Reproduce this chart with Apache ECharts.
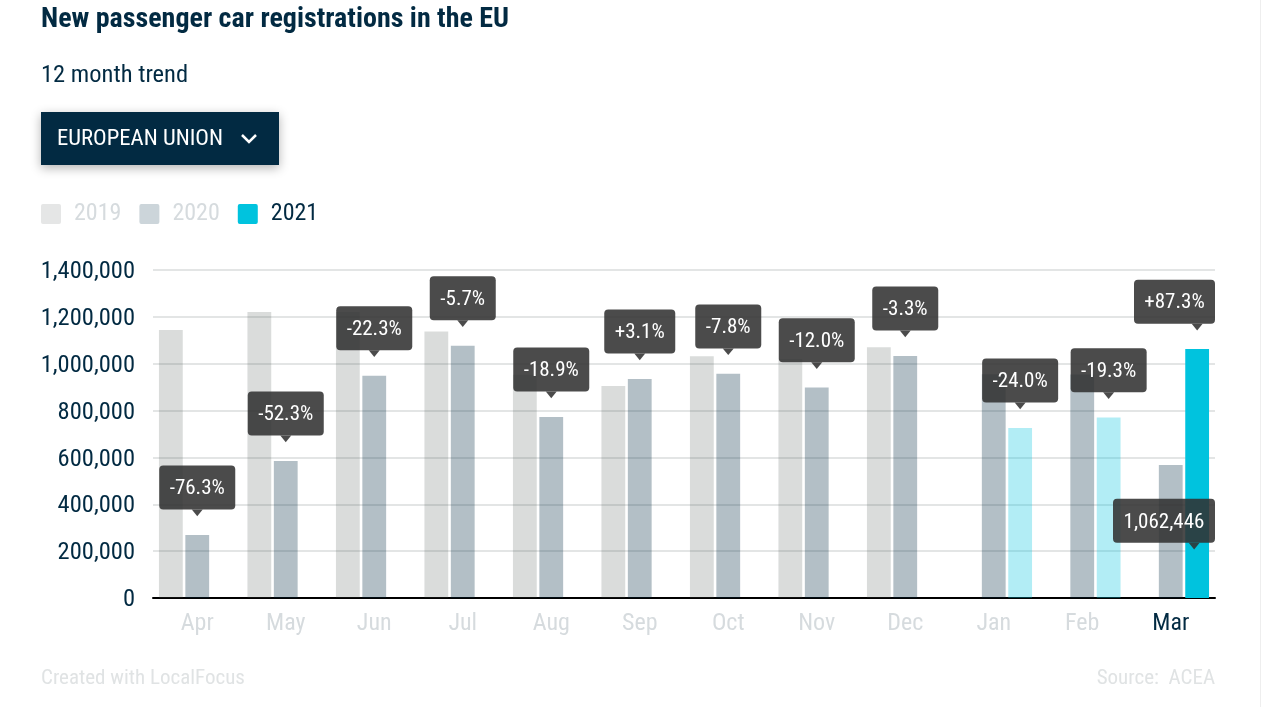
<!DOCTYPE html>
<html>
<head>
<meta charset="utf-8">
<title>New passenger car registrations in the EU</title>
<style>
html,body{margin:0;padding:0;background:#fff}
#chart{width:1263px;height:707px}
</style>
<script src="https://cdn.jsdelivr.net/npm/echarts@6/dist/echarts.min.js"></script>
</head>
<body>
<div id="chart"></div>
<script>
var months = ['Apr','May','Jun','Jul','Aug','Sep','Oct','Nov','Dec','Jan','Feb','Mar'];
var y2019 = [1144000,1221000,1221000,1137000,953000,905000,1032000,1020000,1070000,null,null,null];
var y2020 = [269000,585000,949000,1077000,773000,935000,957000,898000,1033000,955000,954000,568000];
var y2021 = [null,null,null,null,null,null,null,null,null,726000,770000,1062446];
var changes = ['-76.3%','-52.3%','-22.3%','-5.7%','-18.9%','+3.1%','-7.8%','-12.0%','-3.3%','-24.0%','-19.3%','+87.3%'];
var hoverLabel = '1,062,446';
var hoverAnchor = 207000;

var FONT = '"Roboto Condensed", Roboto, sans-serif';
var NAVY = '#022a42';
var FADED = '#d6dbde';
var BAR_W = 23.8, BAR_GAP = 2.6;

var myChart = echarts.init(document.getElementById('chart'));

var callouts = [];
for (var i = 0; i < months.length; i++) {
  var has2021 = y2021[i] != null;
  callouts.push({ idx: i, value: has2021 ? y2021[i] : y2020[i], text: changes[i], dx: has2021 ? BAR_W + BAR_GAP : 0 });
}
callouts.push({ idx: 11, value: hoverAnchor, text: hoverLabel, dx: BAR_W + BAR_GAP - 3 });

var measure = document.createElement('canvas').getContext('2d');
measure.font = '21px ' + FONT;

function renderCallout(params, api) {
  var c = callouts[params.dataIndex];
  var pt = api.coord([c.idx, c.value]);
  var cx = pt[0] + c.dx;
  var tip = c.value === hoverAnchor ? pt[1] : pt[1] - 18.7;
  var w = Math.round(measure.measureText(c.text).width) + 21;
  var h = 44;
  var right = params.coordSys.x + params.coordSys.width;
  var left = Math.min(cx - w / 2, right - w);
  var fill = 'rgba(48,48,48,0.87)';
  return {
    type: 'group',
    children: [
      { type: 'polygon', shape: { points: [[cx - 5.5, tip - 6.7], [cx + 5.5, tip - 6.7], [cx, tip]] }, style: { fill: fill } },
      { type: 'rect', shape: { x: left, y: tip - 6.7 - h, width: w, height: h, r: 4 }, style: { fill: fill } },
      { type: 'text', x: left + w / 2, y: tip - 6.7 - h / 2 + 1.5,
        style: { text: c.text, fill: '#fff', font: '21px ' + FONT, align: 'center', verticalAlign: 'middle' } }
    ]
  };
}

var option = {
  animation: false,
  backgroundColor: '#fff',
  textStyle: { fontFamily: FONT },
  title: [
    { text: 'New passenger car registrations in the EU', left: 41, top: 6, padding: 0,
      textStyle: { color: NAVY, fontSize: 28, fontWeight: 'bold', fontFamily: FONT } },
    { text: '12 month trend', left: 41, top: 63, padding: 0,
      textStyle: { color: NAVY, fontSize: 24.5, fontWeight: 'normal', fontFamily: FONT } }
  ],
  legend: {
    left: 41, top: 202, padding: 0, itemWidth: 20, itemHeight: 20, itemGap: 18,
    icon: 'path://M2 0H18Q20 0 20 2V18Q20 20 18 20H2Q0 20 0 18V2Q0 0 2 0Z',
    selectedMode: false,
    textStyle: { fontSize: 24, fontFamily: FONT, padding: [0, 0, 0, 8] },
    data: [
      { name: '2019', itemStyle: { color: '#e5e6e6', opacity: 1 }, textStyle: { color: FADED } },
      { name: '2020', itemStyle: { color: '#ccd5da', opacity: 1 }, textStyle: { color: FADED } },
      { name: '2021', itemStyle: { color: '#00c3de', opacity: 1 }, textStyle: { color: NAVY } }
    ]
  },
  grid: { left: 153, right: 48, top: 270, bottom: 109 },
  xAxis: {
    type: 'category',
    data: months,
    axisLine: { lineStyle: { color: '#000', width: 2 } },
    axisTick: { show: false },
    axisLabel: {
      margin: 14, fontSize: 24, fontFamily: FONT,
      color: function (v) { return v === 'Mar' ? NAVY : FADED; }
    }
  },
  yAxis: {
    type: 'value', min: 0, max: 1400000, interval: 200000,
    axisLine: { show: false },
    axisTick: { show: false },
    splitLine: { lineStyle: { color: '#e3e5e5', width: 2 } },
    axisLabel: {
      margin: 18, fontSize: 24.5, fontFamily: FONT, color: NAVY, verticalAlign: 'top', lineHeight: 4,
      formatter: function (v) { return v.toLocaleString('en-US'); }
    }
  },
  series: [
    { name: '2019', type: 'bar', data: y2019, barWidth: BAR_W, barGap: (BAR_GAP / BAR_W * 100) + '%',
      itemStyle: { color: 'rgba(70,80,75,0.2)' } },
    { name: '2020', type: 'bar', data: y2020, barWidth: BAR_W,
      itemStyle: { color: 'rgba(2,42,66,0.3)' } },
    { name: '2021', type: 'bar', barWidth: BAR_W,
      data: y2021.map(function (v, i) {
        return v == null ? null : { value: v, itemStyle: { color: i === 11 ? '#00c3de' : 'rgba(0,195,222,0.3)' } };
      }) },
    { name: 'callouts', type: 'custom', z: 10, clip: false, silent: true,
      renderItem: renderCallout,
      data: callouts.map(function (c) { return [c.idx, c.value]; }),
      encode: { x: 0, y: 1 } }
  ],
  graphic: [
    { type: 'rect', left: 41, top: 112, z: 5, shape: { width: 238, height: 53 },
      style: { fill: NAVY, shadowBlur: 10, shadowColor: 'rgba(0,0,0,0.3)', shadowOffsetY: 3 } },
    { type: 'text', left: 57, top: 128, z: 6,
      style: { text: 'EUROPEAN UNION', fill: '#fff', font: '22.7px ' + FONT } },
    { type: 'polyline', z: 6, shape: { points: [[242, 135], [249, 142], [256, 135]] },
      style: { stroke: '#fff', lineWidth: 2.5, fill: null } },
    { type: 'text', left: 41, top: 668,
      style: { text: 'Created with LocalFocus', fill: '#e0e3e4', font: '21px ' + FONT } },
    { type: 'text', right: 48, top: 668,
      style: { text: 'Source:  ACEA', fill: '#e0e3e4', font: '21px ' + FONT } },
    { type: 'rect', left: 1260, top: 0, shape: { width: 1, height: 707 }, style: { fill: '#eeeeee' } }
  ]
};

myChart.setOption(option);
</script>
</body>
</html>
